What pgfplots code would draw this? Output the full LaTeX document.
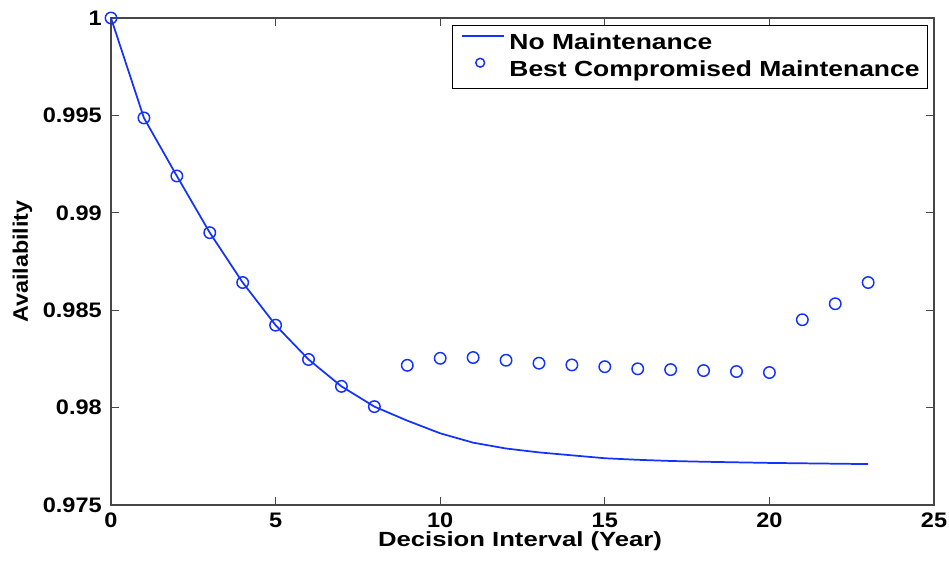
\documentclass[border=0pt]{standalone}
\usepackage{pgfplots}
\pgfplotsset{compat=1.18}
\usepackage{fontspec}
\setmainfont{Liberation Sans}
\newfontfamily\tickfont{Liberation Sans}[FakeStretch=1.12]
\newfontfamily\ylabfont{Liberation Sans}[FakeStretch=1.11]
\newfontfamily\xlabfont{Liberation Sans}[FakeStretch=1.25]
\newfontfamily\legfont{Liberation Sans}[FakeStretch=1.21]
\definecolor{mblue}{RGB}{20,50,255}
\definecolor{axgray}{RGB}{70,70,70}
\pgfplotsset{
  legline/.style={legend image code/.code={\draw[##1] (0pt,5.9pt) -- (31.5pt,5.9pt);}},
  legmark/.style={legend image code/.code={\draw[##1, mark size=3.3pt] plot coordinates {(14pt,5.9pt)};}},
}
\begin{document}
\begin{tikzpicture}
\begin{axis}[
  scale only axis,
  width=617.25pt, height=365.25pt,
  xmin=0, xmax=25, ymin=0.975, ymax=1,
  clip=false,
  xtick={0,5,10,15,20,25},
  xticklabels={0,5,10,15,20,25},
  ytick={0.975,0.98,0.985,0.99,0.995,1},
  yticklabels={0.975,0.98,0.985,0.99,0.995,1},
  tick align=inside,
  major tick length=6pt,
  axis line style={axgray, line width=0.9pt},
  tick style={axgray, line width=0.8pt},
  ticklabel style={font=\fontsize{15.75}{18}\selectfont\tickfont\bfseries, inner sep=0pt},
  xticklabel style={yshift=-6pt},
  yticklabel style={xshift=-6.75pt},
  xlabel={Decision Interval (Year)},
  ylabel={Availability},
  xlabel style={at={(axis description cs:0.497,0)}, anchor=center, yshift=-27.5pt,
    font=\fontsize{15.4}{18}\selectfont\xlabfont\bfseries, inner sep=0pt},
  ylabel style={at={(axis description cs:0,0.5)}, anchor=center, yshift=66.4pt,
    font=\fontsize{15.75}{18}\selectfont\ylabfont\bfseries, inner sep=0pt},
  legend style={at={(axis description cs:1,1)}, anchor=north east,
    xshift=-4.5pt, yshift=-5.25pt,
    draw=black, line width=0.6pt, fill=white,
    font=\fontsize{16.4}{19}\selectfont\legfont\bfseries,
    inner xsep=6pt, inner ysep=6pt, row sep=3.5pt,
    nodes={inner sep=0pt, text height=11.8pt, text depth=3.4pt},
    /tikz/every odd column/.append style={column sep=3.75pt},
    cells={anchor=west}},
  legend cell align=left,
]
\addplot[mblue, line width=1.3pt, mark=none, legline] coordinates {
(0,1.0000) (1,0.99487) (2,0.99189) (3,0.98898) (4,0.98642) (5,0.98423)
(6,0.98247) (7,0.98109) (8,0.98005) (9,0.97933) (10,0.97868) (11,0.97820)
(12,0.97790) (13,0.97770) (14,0.97755) (15,0.97740) (16,0.97732) (17,0.97726)
(18,0.97722) (19,0.97719) (20,0.97716) (21,0.97714) (22,0.97712) (23,0.97710)
};
\addlegendentry{No Maintenance}
\addplot[only marks, mark=o, mark size=4.3pt, mark options={mblue, line width=1.1pt}, legmark] coordinates {
(0,1.0000) (1,0.99487) (2,0.99189) (3,0.98898) (4,0.98642) (5,0.98423)
(6,0.98247) (7,0.98109) (8,0.98005) (9,0.98217) (10,0.98253) (11,0.98257)
(12,0.98243) (13,0.98228) (14,0.98219) (15,0.98210) (16,0.98199) (17,0.98195)
(18,0.98190) (19,0.98185) (20,0.98180) (21,0.98451) (22,0.98533) (23,0.98642)
};
\addlegendentry{Best Compromised Maintenance}
\end{axis}
\path (current axis.south west) ++(-83.25pt,-42.75pt);
\path (current axis.north east) ++(11.25pt,13.5pt);
\end{tikzpicture}
\end{document}
